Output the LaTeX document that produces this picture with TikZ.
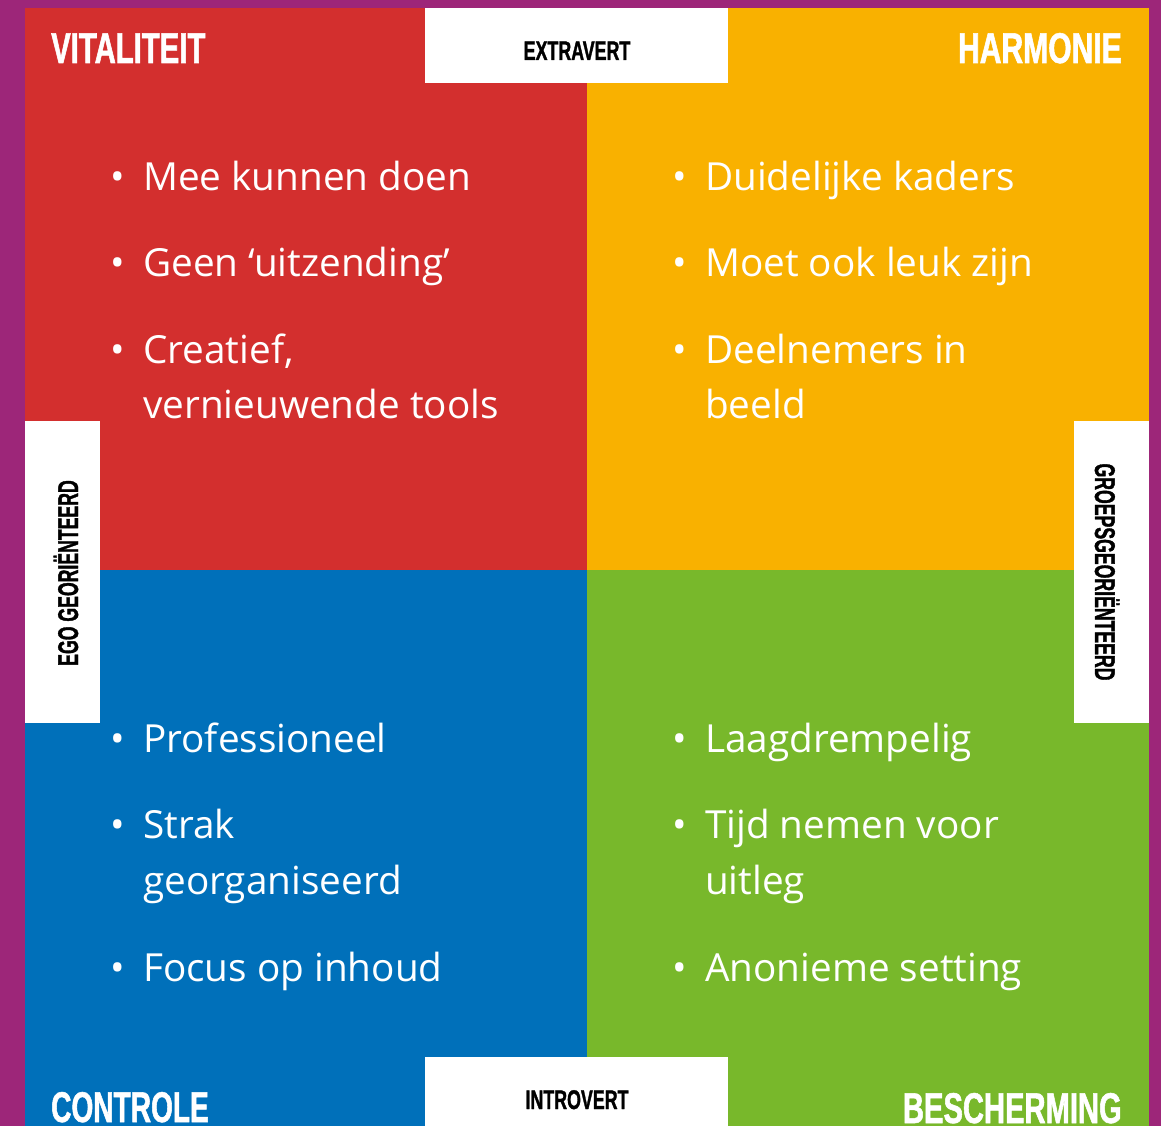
\documentclass[tikz,border=0pt]{standalone}
\usepackage{fontspec}
\usepackage{graphicx}
\setmainfont{Open Sans}
\newfontfamily\condfont[FakeStretch=0.66,FakeBold=1.2]{Liberation Sans Bold}
\newfontfamily\condfontv[FakeStretch=0.62,FakeBold=1.2]{Liberation Sans Bold}
\definecolor{cpurple}{HTML}{9D2679}
\definecolor{cred}{HTML}{D32F2E}
\definecolor{corange}{HTML}{F9B100}
\definecolor{cblue}{HTML}{0070BA}
\definecolor{cgreen}{HTML}{78B82B}
\tikzset{
  title/.style={inner sep=0pt,text=white,font=\condfont\fontsize{43}{43}\selectfont},
  axis/.style={inner sep=0pt,text=black,font=\condfont\fontsize{27}{27}\selectfont},
  vaxis/.style={inner sep=0pt,text=black,font=\condfontv\fontsize{28.5}{28.5}\selectfont},
  item/.style={inner sep=0pt,anchor=base west,text=white,font=\fontsize{38.7}{38.7}\selectfont},
  bul/.style={inner sep=0pt,anchor=base,text=white,font=\fontsize{38.7}{38.7}\selectfont},
}
\begin{document}
\begin{tikzpicture}[x=1pt,y=-1pt]
\useasboundingbox (0,0) rectangle (1161,1126);
\fill[cpurple] (0,0) rectangle (1161,1126);
% quadrants
\fill[cred] (25,8) rectangle (587,570);
\fill[corange] (587,8) rectangle (1149,570);
\fill[cblue] (25,570) rectangle (587,1126);
\fill[cgreen] (587,570) rectangle (1149,1126);
% white boxes
\fill[white] (425,8) rectangle (728,83);
\fill[white] (425,1057) rectangle (728,1126);
\fill[white] (25,421) rectangle (100,723);
\fill[white] (1074,421) rectangle (1149,723);
% axis labels
\node[axis,anchor=base] (extra) at (577,60) {EXTRAVERT};
\node[axis,anchor=base] (intro) at (577,1109) {INTROVERT};
\node[vaxis,anchor=base,rotate=90] (ego) at (78,573) {EGO GEORIËNTEERD};
\node[vaxis,anchor=base,rotate=-90] (groep) at (1095,572) {GROEPSGEORIËNTEERD};
% titles
\node[title,anchor=base west] (vit) at (51,63) {\scalebox{1.033}[1]{VITALITEIT}};
\node[title,anchor=base east] (harm) at (1122,63) {\scalebox{1.06}[1]{HARMONIE}};
\node[title,anchor=base west] (contr) at (51,1122) {\scalebox{0.99}[1]{CONTROLE}};
\node[title,anchor=base east] (besch) at (1122,1123) {\scalebox{1.028}[1]{BESCHERMING}};
% top-left
\node[bul] (b1) at (118,190) {•};
\node[item] (t1) at (143,190) {Mee kunnen doen};
\node[bul] (b2) at (118,276) {•};
\node[item] (t2) at (143,276) {Geen ‘uitzending’};
\node[bul] (b3) at (118,363) {•};
\node[item] (t3) at (143,363) {Creatief,};
\node[item] (t3b) at (143,418) {vernieuwende tools};
% top-right
\node[bul] (b4) at (680,190) {•};
\node[item] (t4) at (705,190) {Duidelijke kaders};
\node[bul] (b5) at (680,276) {•};
\node[item] (t5) at (705,276) {Moet ook leuk zijn};
\node[bul] (b6) at (680,363) {•};
\node[item] (t6) at (705,363) {Deelnemers in};
\node[item] (t6b) at (705,418) {beeld};
% bottom-left
\node[bul] (b7) at (118,752) {•};
\node[item] (t7) at (143,752) {Professioneel};
\node[bul] (b8) at (118,838) {•};
\node[item] (t8) at (143,838) {Strak};
\node[item] (t8b) at (143,894) {georganiseerd};
\node[bul] (b9) at (118,981) {•};
\node[item] (t9) at (143,981) {Focus op inhoud};
% bottom-right
\node[bul] (b10) at (680,752) {•};
\node[item] (t10) at (705,752) {Laagdrempelig};
\node[bul] (b11) at (680,838) {•};
\node[item] (t11) at (705,838) {Tijd nemen voor};
\node[item] (t11b) at (705,894) {uitleg};
\node[bul] (b12) at (680,981) {•};
\node[item] (t12) at (705,981) {Anonieme setting};
\end{tikzpicture}
\end{document}
